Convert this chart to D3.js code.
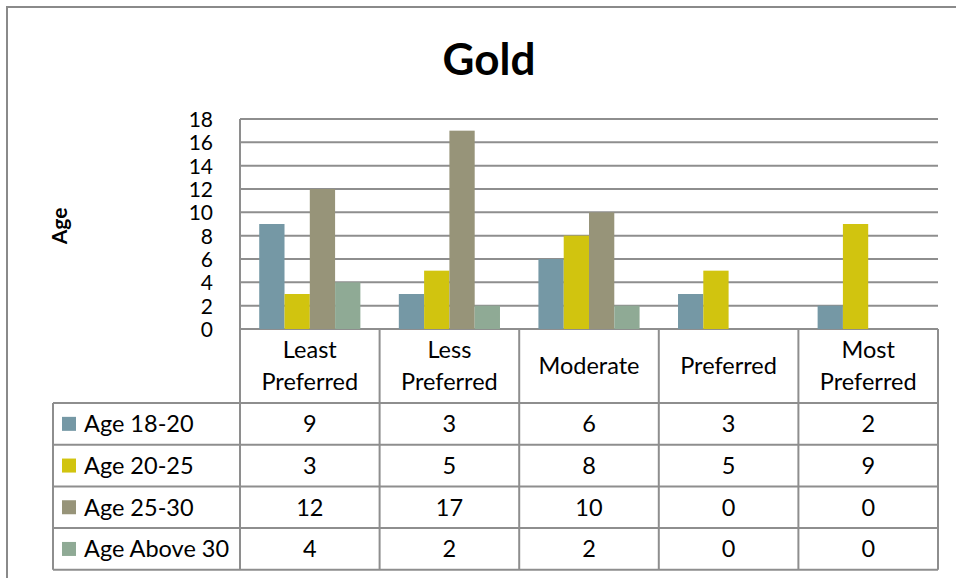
<!DOCTYPE html>
<html>
<head>
<meta charset="utf-8">
<script src="https://cdn.jsdelivr.net/npm/d3@7"></script>
<style>
  html, body { margin: 0; padding: 0; background: #fff; }
  svg { display: block; }
  text { font-family: Lato, "Open Sans", sans-serif; fill: #000; }
</style>
</head>
<body>
<svg id="chart" width="956" height="578"></svg>
<script>
// Chart data
const categories = [["Least", "Preferred"], ["Less", "Preferred"], ["Moderate"], ["Preferred"], ["Most", "Preferred"]];
const seriesNames = ["Age 18-20", "Age 20-25", "Age 25-30", "Age Above 30"];
const age18to20 = [9, 3, 6, 3, 2];
const age20to25 = [3, 5, 8, 5, 9];
const age25to30 = [12, 17, 10, 0, 0];
const ageAbove30 = [4, 2, 2, 0, 0];
const yTicks = [0, 2, 4, 6, 8, 10, 12, 14, 16, 18];
const seriesColors = ["#7598a5", "#d1c40f", "#979479", "#8faa95"];

const seriesValues = [age18to20, age20to25, age25to30, ageAbove30];
const catKeys = categories.map((c, i) => i);

const svg = d3.select("#chart");
const W = 956, H = 578;
const gridColor = "#8e8e8e";
const tableFont = "23.5px";

// Outer chart frame
svg.append("rect")
  .attr("x", 7).attr("y", 7).attr("width", W + 10).attr("height", H + 10)
  .attr("fill", "none").attr("stroke", "#8a8a8a").attr("stroke-width", 2);

// Title
svg.append("text")
  .attr("x", 489).attr("y", 75)
  .attr("text-anchor", "middle")
  .style("font-size", "44px").style("font-weight", "bold")
  .text("Gold");

// Scales
const plotLeft = 240, plotRight = 938, plotTop = 119, plotBottom = 329;
const x0 = d3.scaleBand().domain(catKeys).range([plotLeft, plotRight]).padding(0);
const x1 = d3.scaleBand().domain(d3.range(seriesNames.length))
  .range([0, x0.bandwidth()]).paddingInner(0).paddingOuter(0.76);
const y = d3.scaleLinear().domain([0, 18]).range([plotBottom, plotTop]);

// Gridlines
svg.append("g").selectAll("line").data(yTicks).join("line")
  .attr("x1", plotLeft).attr("x2", plotRight)
  .attr("y1", d => y(d)).attr("y2", d => y(d))
  .attr("stroke", gridColor).attr("stroke-width", 2);

// Y axis labels
const yAxis = d3.axisLeft(y).tickValues(yTicks).tickSize(0).tickPadding(0);
const yAxisG = svg.append("g").attr("transform", `translate(213,0)`).call(yAxis);
yAxisG.select(".domain").remove();
yAxisG.selectAll("text")
  .style("font-family", "Lato, 'Open Sans', sans-serif")
  .style("font-size", "21px").attr("fill", "#000").attr("dy", "0.36em");

// Y axis title
svg.append("text")
  .attr("transform", "translate(67,226) rotate(-90)")
  .attr("text-anchor", "middle")
  .style("font-size", "21px").style("font-weight", "bold")
  .text("Age");

// Bars
const groups = svg.append("g").selectAll("g").data(catKeys).join("g")
  .attr("transform", d => `translate(${x0(d)},0)`);
groups.selectAll("rect")
  .data(ci => seriesValues.map((vals, si) => ({ si, v: vals[ci] })))
  .join("rect")
  .attr("x", d => x1(d.si))
  .attr("width", x1.bandwidth())
  .attr("y", d => y(d.v))
  .attr("height", d => y(0) - y(d.v))
  .attr("fill", d => seriesColors[d.si]);

// Data table
const tableLeft = 53, headerBottom = 403, rowH = 41.7;
const rowY = d3.range(seriesNames.length + 1).map(i => headerBottom + i * rowH);
const tableBottom = rowY[rowY.length - 1];
const tg = svg.append("g");

// horizontal rules
tg.selectAll("line.h").data(rowY).join("line")
  .attr("x1", tableLeft).attr("x2", plotRight)
  .attr("y1", d => d).attr("y2", d => d)
  .attr("stroke", gridColor).attr("stroke-width", 2);
// left edge of plot and legend column
tg.append("line").attr("x1", plotLeft).attr("x2", plotLeft)
  .attr("y1", plotTop).attr("y2", tableBottom)
  .attr("stroke", gridColor).attr("stroke-width", 2);
tg.append("line").attr("x1", tableLeft).attr("x2", tableLeft)
  .attr("y1", headerBottom).attr("y2", tableBottom)
  .attr("stroke", gridColor).attr("stroke-width", 2);
// category column dividers
tg.selectAll("line.v").data(catKeys).join("line")
  .attr("x1", d => x0(d) + x0.bandwidth()).attr("x2", d => x0(d) + x0.bandwidth())
  .attr("y1", plotBottom).attr("y2", tableBottom)
  .attr("stroke", gridColor).attr("stroke-width", 2);

// category headers
const lineGap = 32;
tg.selectAll("text.cat").data(catKeys).join("text")
  .attr("text-anchor", "middle")
  .attr("x", d => x0(d) + x0.bandwidth() / 2)
  .attr("y", d => 366 - (categories[d].length - 1) * lineGap / 2)
  .style("font-size", tableFont)
  .each(function (d) {
    const t = d3.select(this);
    categories[d].forEach((ln, i) => {
      t.append("tspan").attr("x", x0(d) + x0.bandwidth() / 2)
        .attr("dy", i === 0 ? "0.36em" : lineGap).text(ln);
    });
  });

// legend column and values
seriesNames.forEach((name, si) => {
  const cy = (rowY[si] + rowY[si + 1]) / 2;
  tg.append("rect").attr("x", 62).attr("y", cy - 7).attr("width", 14).attr("height", 14)
    .attr("fill", seriesColors[si]);
  tg.append("text").attr("x", 84).attr("y", cy).attr("dy", "0.36em")
    .style("font-size", tableFont).text(name);
  tg.selectAll(null).data(catKeys).join("text")
    .attr("text-anchor", "middle")
    .attr("x", d => x0(d) + x0.bandwidth() / 2)
    .attr("y", cy).attr("dy", "0.36em")
    .style("font-size", tableFont)
    .text(d => seriesValues[si][d]);
});
</script>
</body>
</html>
